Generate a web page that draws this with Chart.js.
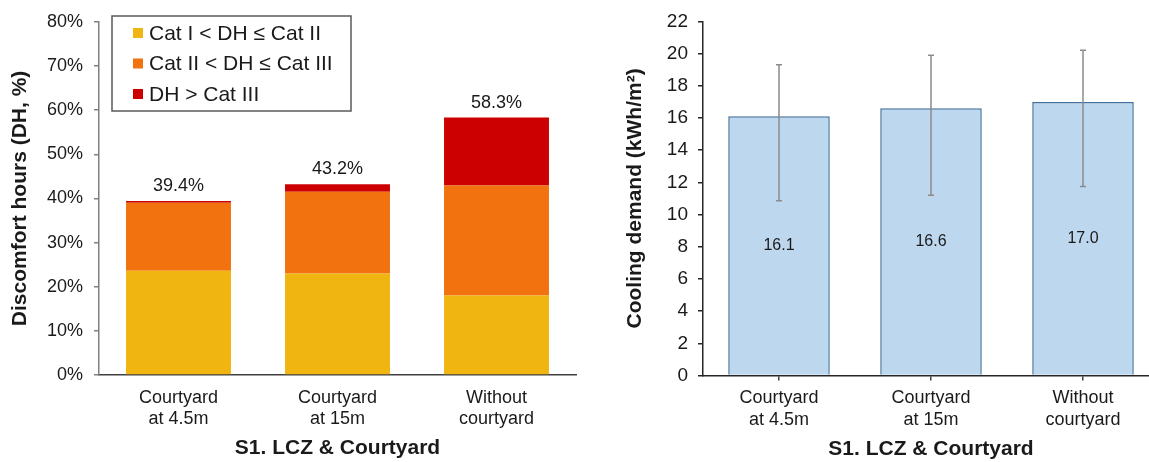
<!DOCTYPE html>
<html>
<head>
<meta charset="utf-8">
<script src="https://cdn.jsdelivr.net/npm/chart.js@4.4.1/dist/chart.umd.min.js"></script>
<style>
  html, body { margin: 0; padding: 0; background: #fff; overflow: hidden; }
  body { width: 1149px; height: 462px; position: relative; }
  .box { position: absolute; top: 0; height: 462px; }
  #leftBox { left: 0; width: 580px; }
  #rightBox { left: 580px; width: 579px; }
</style>
</head>
<body>
<div class="box" id="leftBox"><canvas id="dhChart"></canvas></div>
<div class="box" id="rightBox"><canvas id="coolChart"></canvas></div>
<script>
const categories = [['Courtyard', 'at 4.5m'], ['Courtyard', 'at 15m'], ['Without', 'courtyard']]
const legendLabels = ['Cat I < DH ≤ Cat II', 'Cat II < DH ≤ Cat III', 'DH > Cat III']
const dhCat2 = [23.6, 23.0, 18.0]
const dhCat3 = [15.4, 18.5, 24.9]
const dhOver = [0.4, 1.7, 15.4]
const dhTotals = [39.4, 43.2, 58.3]
const coolDemand = [16.1, 16.6, 17.0]
const coolHigh = [19.3, 19.9, 20.2]
const coolLow = [10.85, 11.2, 11.75]

const FONT = '"Liberation Sans", Arial, sans-serif'
const TXT = '#1a1a1a'
Chart.defaults.font.family = FONT
Chart.defaults.color = TXT
Chart.defaults.animation = false

// legend drawn as a framed box inside the plot
const boxLegend = {
  id: 'boxLegend',
  afterDraw(chart) {
    const ctx = chart.ctx
    ctx.save()
    ctx.fillStyle = '#fff'
    ctx.fillRect(112, 16, 239, 95)
    ctx.strokeStyle = '#595959'
    ctx.lineWidth = 1.5
    ctx.strokeRect(112, 16, 239, 95)
    ctx.font = '21px ' + FONT
    ctx.textBaseline = 'middle'
    ctx.textAlign = 'left'
    chart.data.datasets.forEach((ds, i) => {
      const y = 33 + i * 30.5
      ctx.fillStyle = ds.backgroundColor
      ctx.fillRect(133, y - 5, 10, 10)
      ctx.fillStyle = TXT
      ctx.fillText(ds.label, 149, y + 1)
    })
    ctx.restore()
  }
}

// total on top of each stack
const stackTotals = {
  id: 'stackTotals',
  afterDatasetsDraw(chart) {
    const ctx = chart.ctx
    const meta = chart.getDatasetMeta(chart.data.datasets.length - 1)
    const y = chart.scales.y
    ctx.save()
    ctx.font = '18px ' + FONT
    ctx.fillStyle = TXT
    ctx.textAlign = 'center'
    ctx.textBaseline = 'middle'
    dhTotals.forEach((t, i) => {
      ctx.fillText(t.toFixed(1) + '%', meta.data[i].x, y.getPixelForValue(t) - 15)
    })
    ctx.restore()
  }
}

// error bars + value labels
const errorBars = {
  id: 'errorBars',
  afterDatasetsDraw(chart) {
    const ctx = chart.ctx
    const meta = chart.getDatasetMeta(0)
    const y = chart.scales.y
    ctx.save()
    ctx.strokeStyle = '#8c8c8c'
    ctx.lineWidth = 1.5
    meta.data.forEach((bar, i) => {
      const top = y.getPixelForValue(coolHigh[i])
      const bot = y.getPixelForValue(coolLow[i])
      ctx.beginPath()
      ctx.moveTo(bar.x, top); ctx.lineTo(bar.x, bot)
      ctx.moveTo(bar.x - 3, top); ctx.lineTo(bar.x + 3, top)
      ctx.moveTo(bar.x - 3, bot); ctx.lineTo(bar.x + 3, bot)
      ctx.stroke()
    })
    ctx.font = '16px ' + FONT
    ctx.fillStyle = TXT
    ctx.textAlign = 'center'
    ctx.textBaseline = 'middle'
    meta.data.forEach((bar, i) => {
      ctx.fillText(coolDemand[i].toFixed(1), bar.x, y.getPixelForValue(coolDemand[i] / 2))
    })
    ctx.restore()
  }
}

const dhChart = new Chart(document.getElementById('dhChart'), {
  type: 'bar',
  data: {
    labels: categories,
    datasets: [
      { label: legendLabels[0], data: dhCat2, backgroundColor: '#F1B511' },
      { label: legendLabels[1], data: dhCat3, backgroundColor: '#F2720F' },
      { label: legendLabels[2], data: dhOver, backgroundColor: '#CC0000' }
    ]
  },
  options: {
    responsive: true,
    maintainAspectRatio: false,
    layout: { padding: { top: 21, right: 4, bottom: 0, left: 0 } },
    datasets: { bar: { categoryPercentage: 1, barPercentage: 0.66 } },
    plugins: { legend: { display: false }, tooltip: { enabled: false } },
    scales: {
      x: {
        stacked: true,
        grid: { display: false, drawTicks: false },
        border: { display: true, color: '#404040', width: 1.5 },
        ticks: { padding: 12, font: { size: 18 }, color: TXT, maxRotation: 0 },
        title: { display: true, text: 'S1. LCZ & Courtyard', font: { size: 21, weight: 'bold' }, color: TXT, padding: { top: 0, bottom: 1 } },
        afterFit: s => { s.height = 87 }
      },
      y: {
        stacked: true,
        min: 0,
        max: 80,
        ticks: { stepSize: 10, callback: v => v + '%', padding: 11, font: { size: 18 }, color: TXT },
        grid: { drawOnChartArea: false, drawTicks: true, tickLength: 5, color: '#808080', lineWidth: 1.5 },
        border: { display: true, color: '#808080', width: 1.5 },
        title: { display: true, text: 'Discomfort hours (DH, %)', font: { size: 21, weight: 'bold' }, color: TXT, padding: { top: 8, bottom: 0 } },
        afterFit: s => { s.width = 99 }
      }
    }
  },
  plugins: [stackTotals, boxLegend]
})

const coolChart = new Chart(document.getElementById('coolChart'), {
  type: 'bar',
  data: {
    labels: categories,
    datasets: [{
      label: 'Cooling demand',
      data: coolDemand,
      backgroundColor: '#BDD7EE',
      borderColor: '#41719C',
      borderWidth: 1.5,
      categoryPercentage: 1,
      barPercentage: 0.668
    }]
  },
  options: {
    responsive: true,
    maintainAspectRatio: false,
    layout: { padding: { top: 15, right: 0, bottom: 0, left: 0 } },
    plugins: { legend: { display: false }, tooltip: { enabled: false } },
    scales: {
      x: {
        grid: { offset: false, drawOnChartArea: false, drawTicks: true, tickLength: 5, color: '#404040', lineWidth: 1.5 },
        border: { display: true, color: '#262626', width: 1.5 },
        ticks: { padding: 7, font: { size: 18 }, color: TXT, maxRotation: 0 },
        title: { display: true, text: 'S1. LCZ & Courtyard', font: { size: 21, weight: 'bold' }, color: TXT, padding: { top: 0, bottom: 0 } },
        afterFit: s => { s.height = 86.5 }
      },
      y: {
        min: 0,
        max: 22,
        ticks: { stepSize: 2, padding: 10, font: { size: 19 }, color: TXT },
        grid: { drawOnChartArea: false, drawTicks: true, tickLength: 5, color: '#262626', lineWidth: 1.5 },
        border: { display: true, color: '#262626', width: 1.5 },
        title: { display: true, text: 'Cooling demand (kWh/m²)', font: { size: 21, weight: 'bold' }, color: TXT, padding: { top: 43, bottom: 0 } },
        afterFit: s => { s.width = 123 }
      }
    }
  },
  plugins: [errorBars]
})
</script>
</body>
</html>
